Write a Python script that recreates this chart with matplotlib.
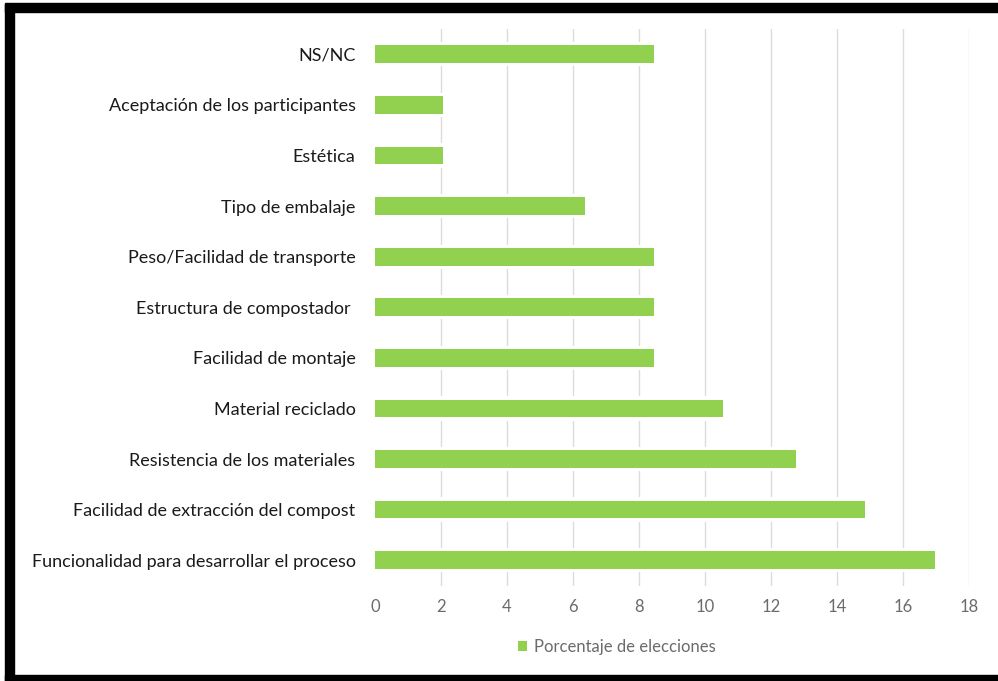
import matplotlib
matplotlib.use("Agg")
import matplotlib.pyplot as plt
from matplotlib.patches import Rectangle

categories = [
    "NS/NC",
    "Aceptación de los participantes",
    "Estética",
    "Tipo de embalaje",
    "Peso/Facilidad de transporte",
    "Estructura de compostador ",
    "Facilidad de montaje",
    "Material reciclado",
    "Resistencia de los materiales",
    "Facilidad de extracción del compost",
    "Funcionalidad para desarrollar el proceso",
]
porcentaje = [8.45, 2.05, 2.05, 6.35, 8.45, 8.45, 8.45, 10.55, 12.75, 14.85, 16.96]
xticks = [0, 2, 4, 6, 8, 10, 12, 14, 16, 18]
serie = "Porcentaje de elecciones"

GREEN = "#92d050"
W, H = 998, 681

plt.rcParams["font.family"] = ["Lato", "DejaVu Sans"]
fig = plt.figure(figsize=(W / 100, H / 100), dpi=100)
ax = fig.add_axes([375 / W, 95.5 / H, 594 / W, 556.5 / H])

ypos = list(range(len(categories)))
# white halo behind each bar breaks the gridlines like the spreadsheet chart
ax.barh(ypos, porcentaje, height=0.48, color="white", zorder=2)
bars = ax.barh(ypos, porcentaje, height=0.35, color=GREEN, zorder=3, label=serie)

ax.set_ylim(len(categories) - 0.5, -0.5)
ax.set_xlim(0, 18)
ax.set_xticks(xticks)
ax.set_yticks(ypos)
ax.set_yticklabels(categories, fontsize=13, color="#1a1a1a")
ax.tick_params(axis="y", length=0, pad=14)
ax.tick_params(axis="x", length=0, pad=10, labelsize=12, labelcolor="#6b6b6b")
ax.grid(axis="x", color="#dcdcdc", linewidth=1.0, zorder=1)
ax.set_axisbelow(True)
for s in ax.spines.values():
    s.set_visible(False)
fig.canvas.draw()
ax.xaxis.get_gridlines()[0].set_visible(False)

fig.legend(handles=[bars], loc="center", bbox_to_anchor=(617 / W, 1 - 647 / H),
           frameon=False, fontsize=12, labelcolor="#6b6b6b",
           handlelength=0.55, handleheight=0.55, handletextpad=0.4)

# black frame around the chart
for x0, y0, w, h in [(5, 3.5, W - 5, 8.3), (5, 3.5, 8.5, H), (5, 675.5, W - 5, 6)]:
    fig.patches.append(Rectangle((x0 / W, 1 - (y0 + h) / H), w / W, h / H,
                                 transform=fig.transFigure, color="black",
                                 zorder=10))

fig.savefig("out.png", dpi=100)
